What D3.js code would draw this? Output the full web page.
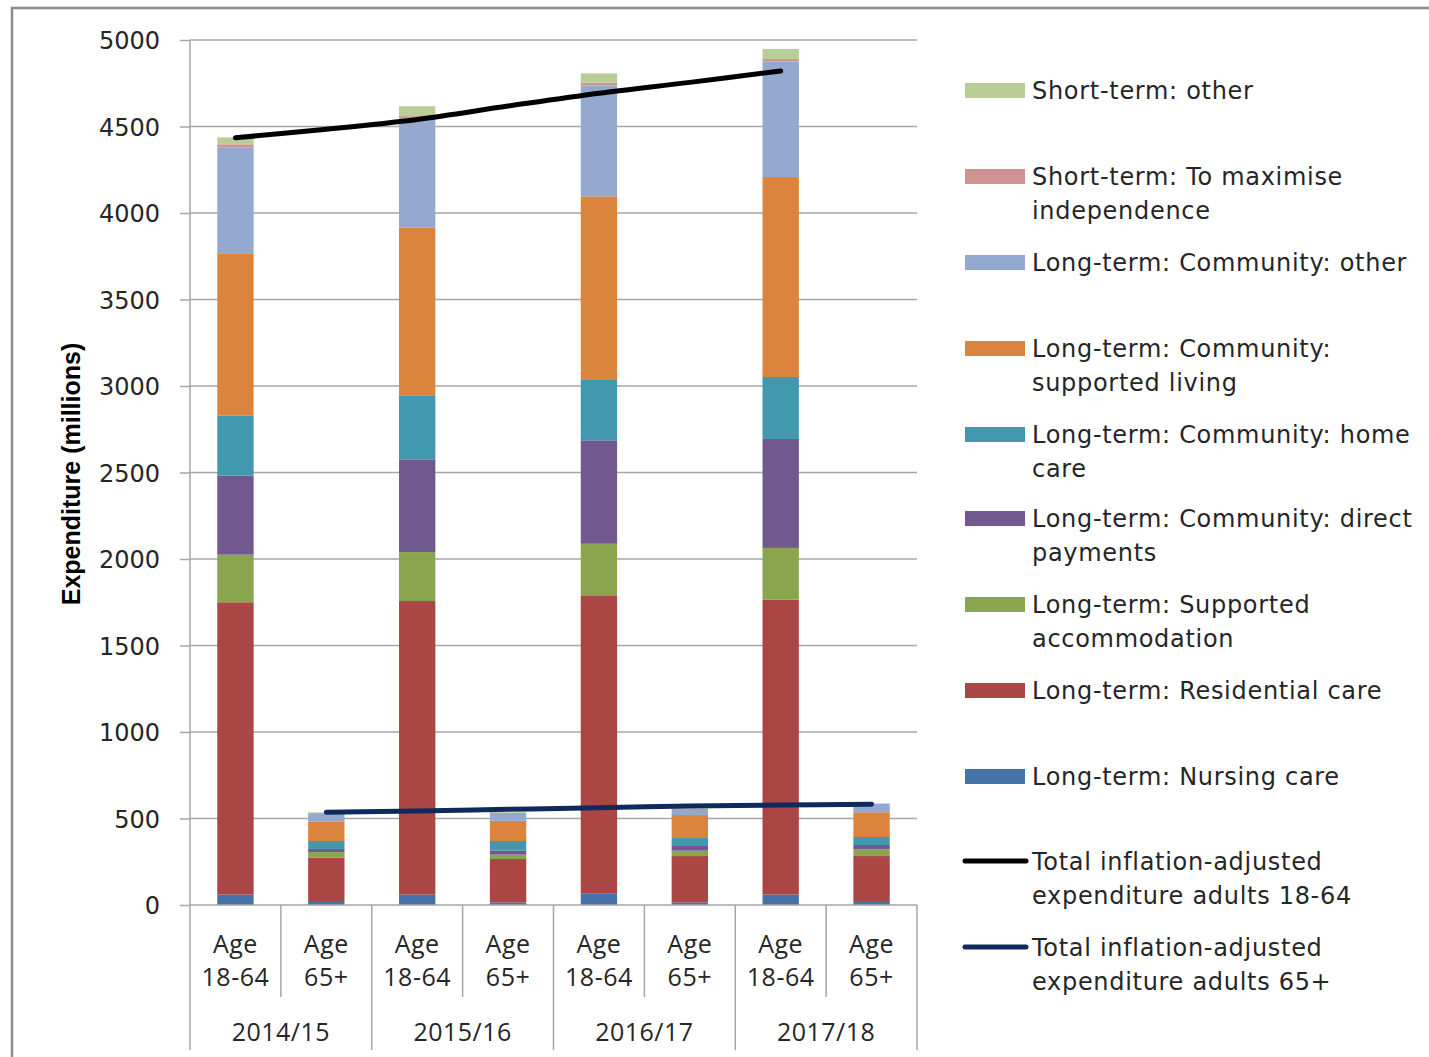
<!DOCTYPE html>
<html>
<head>
<meta charset="utf-8">
<script src="https://cdn.jsdelivr.net/npm/d3@7"></script>
<style>
  html, body { margin: 0; padding: 0; background: #fff; }
  svg { display: block; }
</style>
</head>
<body>
<svg id="chart" width="1429" height="1057"></svg>
<script>
// ---------- DATA ----------
const years = ["2014/15", "2015/16", "2016/17", "2017/18"];
const ageGroups = [["Age", "18-64"], ["Age", "65+"]];
const yTicks = [0, 500, 1000, 1500, 2000, 2500, 3000, 3500, 4000, 4500, 5000];

// Each series: values in category order
// (2014/15 18-64, 2014/15 65+, 2015/16 18-64, 2015/16 65+, 2016/17 18-64, 2016/17 65+, 2017/18 18-64, 2017/18 65+)
const nursingCare        = [60, 23, 60, 15, 68, 15, 60, 23];
const residentialCare    = [1690, 251, 1697, 251, 1722, 268, 1705, 260];
const supportedAccomm    = [275, 32, 283, 25, 298, 31, 299, 39];
const directPayments     = [457, 18, 536, 23, 598, 27, 630, 25];
const homeCare           = [346, 46, 370, 56, 349, 46, 358, 46];
const supportedLiving    = [939, 111, 969, 117, 1061, 133, 1156, 143];
const communityOther     = [613, 50, 632, 46, 640, 35, 667, 48];
const maxIndependence    = [17, 2, 13, 2, 17, 2, 15, 2];
const shortTermOther     = [40, 3, 57, 3, 54, 3, 58, 2];

const total1864 = [4435, 4484, 4541, 4618, 4692, 4755, 4821, null];
const total65   = [null, 536, 543, 553, 562, 572, 578, 582];

const seriesNames = [
  "Long-term: Nursing care",
  "Long-term: Residential care",
  "Long-term: Supported accommodation",
  "Long-term: Community: direct payments",
  "Long-term: Community: home care",
  "Long-term: Community: supported living",
  "Long-term: Community: other",
  "Short-term: To maximise independence",
  "Short-term: other"
];
const seriesValues = [nursingCare, residentialCare, supportedAccomm, directPayments,
  homeCare, supportedLiving, communityOther, maxIndependence, shortTermOther];
const seriesColors = ["#4572A7", "#AA4643", "#89A54E", "#71588F", "#4198AF",
  "#DB843D", "#93A9CF", "#D19392", "#B9CD96"];

// legend labels (top to bottom), wrapped as in reference
const legendItems = [
  {lines: ["Short-term: other"], s: 8},
  {lines: ["Short-term: To maximise", "independence"], s: 7},
  {lines: ["Long-term: Community: other"], s: 6},
  {lines: ["Long-term: Community:", "supported living"], s: 5},
  {lines: ["Long-term: Community: home", "care"], s: 4},
  {lines: ["Long-term: Community: direct", "payments"], s: 3},
  {lines: ["Long-term: Supported", "accommodation"], s: 2},
  {lines: ["Long-term: Residential care"], s: 1},
  {lines: ["Long-term: Nursing care"], s: 0},
  {lines: ["Total inflation-adjusted", "expenditure adults 18-64"], line: "#000000"},
  {lines: ["Total inflation-adjusted", "expenditure adults 65+"], line: "#0E2A5C"}
];

// ---------- LAYOUT ----------
const svg = d3.select("#chart");
const plot = {left: 190, right: 917, top: 40, bottom: 905};
const nCat = 8;
const catIdx = d3.range(nCat);

// outer frame
svg.append("rect").attr("x", 12).attr("y", 8).attr("width", 1500).attr("height", 1200)
  .attr("fill", "none").attr("stroke", "#8c8c8c").attr("stroke-width", 2.5);

const y = d3.scaleLinear().domain([0, 5000]).range([plot.bottom, plot.top]);
const xSlot = d3.scaleBand().domain(catIdx).range([plot.left, plot.right]).padding(0);
const x = d3.scaleBand().domain(catIdx).range([plot.left, plot.right]).paddingInner(0.6).paddingOuter(0.3);

// gridlines
svg.append("g").selectAll("line").data(yTicks.filter(t => t > 0)).join("line")
  .attr("x1", plot.left).attr("x2", plot.right)
  .attr("y1", d => y(d)).attr("y2", d => y(d))
  .attr("stroke", "#a6a6a6").attr("stroke-width", 1.5);

// stacked bars
const rows = catIdx.map(i => {
  const r = {i};
  seriesValues.forEach((arr, k) => r[k] = arr[i]);
  return r;
});
const stack = d3.stack().keys(d3.range(seriesValues.length))(rows);
svg.append("g").selectAll("g").data(stack).join("g")
  .attr("fill", (d, k) => seriesColors[k])
  .selectAll("rect").data(d => d).join("rect")
  .attr("x", d => x(d.data.i))
  .attr("width", x.bandwidth())
  .attr("y", d => y(d[1]))
  .attr("height", d => y(d[0]) - y(d[1]));

// y axis
const yAxis = d3.axisLeft(y).tickValues(yTicks).tickSize(10).tickSizeOuter(0).tickPadding(20).tickFormat(d3.format("d"));
const gy = svg.append("g").attr("transform", `translate(${plot.left},0)`).call(yAxis);
gy.select(".domain").remove();
gy.selectAll(".tick line").attr("stroke", "#a6a6a6").attr("stroke-width", 1.5);
gy.selectAll(".tick text").attr("font-family", "DejaVu Sans, Verdana, sans-serif")
  .attr("font-size", 24).attr("fill", "#262626").attr("dy", "0.36em");

// axis lines
const axisBottom = 1050;
svg.append("line").attr("x1", plot.left).attr("x2", plot.left).attr("y1", plot.top).attr("y2", axisBottom)
  .attr("stroke", "#a6a6a6").attr("stroke-width", 1.5);
svg.append("line").attr("x1", plot.left).attr("x2", plot.right).attr("y1", y(0)).attr("y2", y(0))
  .attr("stroke", "#a6a6a6").attr("stroke-width", 1.5);

// category separators
const sepG = svg.append("g");
d3.range(1, nCat + 1).forEach(k => {
  const xx = k < nCat ? xSlot(k) : plot.right;
  const long = (k % 2 === 0);
  sepG.append("line").attr("x1", xx).attr("x2", xx)
    .attr("y1", y(0)).attr("y2", long ? axisBottom : 997)
    .attr("stroke", "#a6a6a6").attr("stroke-width", 1.5);
});

// category labels
const catFont = "Open Sans, sans-serif";
catIdx.forEach(i => {
  const cx = xSlot(i) + xSlot.bandwidth() / 2;
  const lab = ageGroups[i % 2];
  svg.append("text").attr("x", cx).attr("y", 953).attr("text-anchor", "middle")
    .attr("font-family", catFont).attr("font-size", 25).attr("letter-spacing", "0.5px").attr("fill", "#262626").text(lab[0]);
  svg.append("text").attr("x", cx).attr("y", 986).attr("text-anchor", "middle")
    .attr("font-family", catFont).attr("font-size", 25).attr("letter-spacing", "0.5px").attr("fill", "#262626").text(lab[1]);
});
years.forEach((yr, j) => {
  const cx = (xSlot(2 * j) + xSlot(2 * j + 1) + xSlot.bandwidth()) / 2;
  svg.append("text").attr("x", cx).attr("y", 1041).attr("text-anchor", "middle")
    .attr("font-family", catFont).attr("font-size", 25).attr("letter-spacing", "0.5px").attr("fill", "#262626").text(yr);
});

// y axis title
svg.append("text")
  .attr("transform", `translate(80,474) rotate(-90)`)
  .attr("text-anchor", "middle")
  .attr("font-family", "Liberation Sans Narrow, Arial Narrow, sans-serif")
  .attr("font-weight", "bold").attr("font-size", 25).attr("fill", "#000")
  .text("Expenditure (millions)");

// lines
const lineGen = d3.line()
  .defined(d => d != null)
  .x((d, i) => x(i) + x.bandwidth() / 2)
  .y(d => y(d))
  .curve(d3.curveCatmullRom.alpha(0.5));
svg.append("path").datum(total1864).attr("d", lineGen)
  .attr("fill", "none").attr("stroke", "#000").attr("stroke-width", 5).attr("stroke-linecap", "round");
svg.append("path").datum(total65).attr("d", lineGen)
  .attr("fill", "none").attr("stroke", "#0E2A5C").attr("stroke-width", 5).attr("stroke-linecap", "round");

// legend
const legBaselines = [99, 185, 271, 357, 443, 527, 613, 699, 785, 870, 956];
const legG = svg.append("g");
legendItems.forEach((it, k) => {
  const b = legBaselines[k];
  if (it.line) {
    legG.append("line").attr("x1", 965).attr("x2", 1026).attr("y1", b - 9).attr("y2", b - 9)
      .attr("stroke", it.line).attr("stroke-width", 5).attr("stroke-linecap", "round");
  } else {
    legG.append("rect").attr("x", 965).attr("y", b - 16).attr("width", 60).attr("height", 15)
      .attr("fill", seriesColors[it.s]);
  }
  it.lines.forEach((ln, li) => {
    legG.append("text").attr("x", 1032).attr("y", b + li * 34)
      .attr("font-family", "DejaVu Sans, Verdana, sans-serif").attr("font-size", 24)
      .attr("letter-spacing", "0.7px")
      .attr("fill", "#262626").text(ln);
  });
});
</script>
</body>
</html>
